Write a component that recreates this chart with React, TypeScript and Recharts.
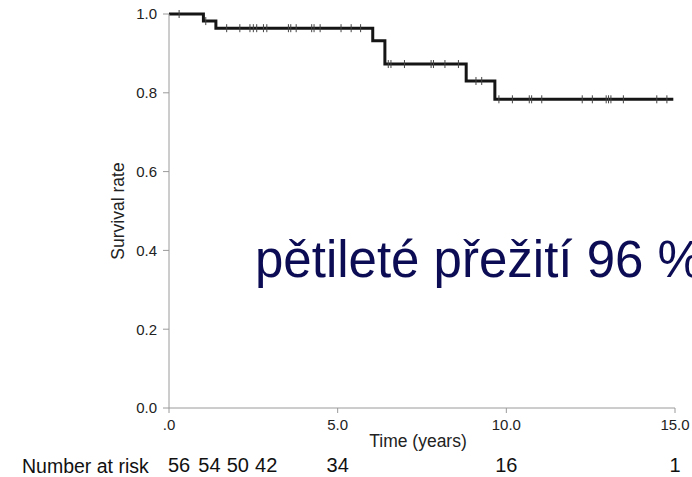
import { ComposedChart, Line, Scatter, XAxis, YAxis } from "recharts";

// Kaplan-Meier steps: time of each drop (years) and survival after it
const stepTimes = [0, 1.02, 1.39, 6.04, 6.4, 8.81, 9.66, 14.95];
const stepSurvival = [1.0, 0.982, 0.964, 0.932, 0.873, 0.83, 0.7835, 0.7835];

// censored observations (years)
const censorTimes = [
  0.3, 1.09, 1.71, 2.1, 2.4, 2.5, 2.6, 2.8, 2.9, 3.54, 3.61, 3.77, 4.23, 4.3,
  4.48, 5.1, 5.4, 5.68, 6.5, 6.58, 6.98, 7.77, 7.84, 8.18, 8.58, 9.1, 9.27,
  9.78, 10.18, 10.68, 10.75, 11.05, 12.25, 12.55, 12.96, 13.03, 13.1, 13.47,
  14.46, 14.76,
];

// number at risk row
const riskTimes = [0.3, 1.2, 2.04, 2.88, 5, 10, 15];
const riskCounts = [56, 54, 50, 42, 34, 16, 1];

const xTicks = [0, 5, 10, 15];
const yTicks = [0, 0.2, 0.4, 0.6, 0.8, 1.0];

const curve = stepTimes.map((t, i) => ({ t, s: stepSurvival[i] }));

// survival level in force at time t
const levelAt = (t: number) => {
  let s = stepSurvival[0];
  stepTimes.forEach((st, i) => {
    if (st <= t) s = stepSurvival[i];
  });
  return s;
};
const censored = censorTimes.map((t) => ({ t, s: levelAt(t) }));
// anchor points so the risk axis has something bound to it
const riskRow = riskTimes.map((t) => ({ t, s: 0 }));

const FONT = "'Liberation Sans', Arial, Helvetica, sans-serif";
const AXIS = "#9a9a9a";
const TEXT = "#222";

const CensorMark = (props: any) => {
  const { cx, cy } = props;
  return <line x1={cx} x2={cx} y1={cy - 4} y2={cy + 4} stroke="#444" strokeWidth={1} />;
};

export default function App() {
  return (
    <div style={{ position: "absolute", left: 0, top: 0, width: 692, height: 477, background: "#fff" }}>
      <ComposedChart
        width={692}
        height={477}
        margin={{ top: 14, right: 17, bottom: 0, left: 0 }}
      >
        <XAxis
          xAxisId="main"
          dataKey="t"
          type="number"
          domain={[0, 15]}
          ticks={xTicks}
          interval={0}
          height={45}
          tickFormatter={(v: number) => (v === 0 ? ".0" : v.toFixed(1))}
          tick={{ fontSize: 15, fill: TEXT, fontFamily: FONT }}
          stroke={AXIS}
          tickSize={5}
          tickMargin={6}
          label={{
            content: ({ viewBox }: any) => (
              <text
                x={viewBox.x + viewBox.width / 2 - 4}
                y={447}
                textAnchor="middle"
                fontSize={17.5}
                fill={TEXT}
                fontFamily={FONT}
              >
                Time (years)
              </text>
            ),
          }}
        />
        <XAxis
          xAxisId="risk"
          dataKey="t"
          type="number"
          domain={[0, 15]}
          ticks={riskTimes}
          interval={0}
          height={24}
          axisLine={false}
          tickLine={false}
          tickSize={0}
          tickMargin={5}
          tickFormatter={(v: number) => String(riskCounts[riskTimes.indexOf(v)])}
          tick={{ fontSize: 20, fill: "#111", fontFamily: FONT }}
        />
        <YAxis
          dataKey="s"
          type="number"
          domain={[0, 1]}
          ticks={yTicks}
          interval={0}
          width={169}
          tickFormatter={(v: number) => v.toFixed(1)}
          tick={{ fontSize: 15, fill: TEXT, fontFamily: FONT }}
          stroke={AXIS}
          tickSize={6}
          tickMargin={6}
          label={{
            content: ({ viewBox }: any) => {
              const cy = viewBox.y + viewBox.height / 2;
              return (
                <text
                  x={118}
                  y={cy}
                  transform={`rotate(-90, 118, ${cy})`}
                  textAnchor="middle"
                  dominantBaseline="central"
                  fontSize={17.5}
                  fill={TEXT}
                  fontFamily={FONT}
                >
                  Survival rate
                </text>
              );
            },
          }}
        />
        <Line
          xAxisId="main"
          data={curve}
          dataKey="s"
          type="stepAfter"
          stroke="#151515"
          strokeWidth={3}
          dot={false}
          activeDot={false}
          isAnimationActive={false}
        />
        <Scatter
          xAxisId="main"
          data={censored}
          dataKey="s"
          shape={CensorMark}
          isAnimationActive={false}
        />
        <Scatter
          xAxisId="risk"
          data={riskRow}
          dataKey="s"
          shape={() => <g />}
          isAnimationActive={false}
        />
      </ComposedChart>
      <svg
        width={692}
        height={477}
        style={{ position: "absolute", left: 0, top: 0, pointerEvents: "none" }}
      >
        <text x={22} y={473} fontSize={19.5} fill="#111" fontFamily={FONT}>
          Number at risk
        </text>
        <text x={255} y={277} fontSize={51} fill="#0c0c54" fontFamily={FONT}>
          pětileté přežití 96 %
        </text>
      </svg>
    </div>
  );
}
